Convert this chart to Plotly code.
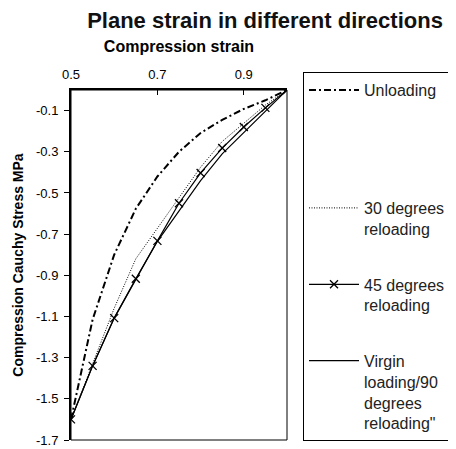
import plotly.graph_objects as go

# Data
strain = [0.5, 0.55, 0.6, 0.65, 0.7, 0.75, 0.8, 0.85, 0.9, 0.95, 1.0]
unloading = [-1.60, -1.115, -0.80, -0.577, -0.42, -0.30, -0.209, -0.145, -0.092, -0.05, 0.0]
reload30 = [-1.60, -1.33, -1.06, -0.82, -0.67, -0.52, -0.375, -0.25, -0.16, -0.073, 0.0]
reload45 = [-1.60, -1.34, -1.108, -0.917, -0.733, -0.55, -0.403, -0.282, -0.18, -0.087, 0.0]
virgin = [-1.60, -1.34, -1.108, -0.917, -0.735, -0.59, -0.44, -0.31, -0.205, -0.10, 0.0]

names = [
    "Unloading<br>&nbsp;<br>&nbsp;<br>&nbsp;<br>&nbsp;",
    "30 degrees<br>reloading<br>&nbsp;",
    "45 degrees<br>reloading<br>&nbsp;",
    "Virgin<br>loading/90<br>degrees<br>reloading\"",
]

xticks = [0.5, 0.7, 0.9]
yticks = [-0.1, -0.3, -0.5, -0.7, -0.9, -1.1, -1.3, -1.5, -1.7]

FONT = "Liberation Sans, Arial, sans-serif"

# The page body adds an 8px offset, so the figure is sized to fill the rest of the window.
W, H = 448, 441
L, T, R, B = 63, 82, 169, 9
PW, PH = W - L - R, H - T - B

fig = go.Figure()
fig.add_trace(go.Scatter(x=strain, y=unloading, mode="lines", name=names[0], legendgroup="a",
                         line=dict(color="black", width=2, dash="7px,3px,2px,3px")))
fig.add_trace(go.Scatter(x=strain, y=reload30, mode="lines", name=names[1], legendgroup="b",
                         line=dict(color="black", width=1, dash="1px,1.5px")))
fig.add_trace(go.Scatter(x=strain, y=reload45, mode="lines+markers", name=names[2], legendgroup="c",
                         line=dict(color="black", width=1.2),
                         marker=dict(symbol="x-thin", size=8, color="black",
                                     line=dict(color="black", width=1.3))))
fig.add_trace(go.Scatter(x=strain, y=virgin, mode="lines", name=names[3], legendgroup="d",
                         line=dict(color="black", width=1.2)))

fig.update_layout(
    width=W, height=H,
    margin=dict(l=L, r=R, t=T, b=B, autoexpand=False),
    paper_bgcolor="white", plot_bgcolor="white",
    font=dict(family=FONT, color="black", size=13),
    title=dict(text="Plane strain in different directions", x=257 / W, xanchor="center",
               y=1 - 12 / H, yanchor="middle",
               font=dict(size=22, weight="bold", family=FONT, color="#111")),
    legend=dict(x=(295 - L) / PW, xanchor="left", y=(T + PH - 64) / PH, yanchor="top",
                bordercolor="black", borderwidth=1, bgcolor="white",
                font=dict(size=16, family=FONT, color="#222"),
                valign="top", itemwidth=50, tracegroupgap=11, maxheight=420),
    showlegend=True,
)

fig.update_xaxes(
    side="top", range=[0.5, 1.0], tickvals=xticks, ticktext=[f"{v:.1f}" for v in xticks],
    ticks="inside", ticklen=5, tickwidth=1, tickcolor="black",
    showline=True, linewidth=2, linecolor="black", mirror=False,
    showgrid=False, zeroline=False, ticklabelstandoff=4, automargin=False,
    tickfont=dict(size=13, family=FONT),
    title=dict(text="Compression strain", standoff=10,
               font=dict(size=16, weight="bold", family=FONT)),
)
fig.update_yaxes(
    range=[-1.7, 0], tickvals=yticks, ticktext=[f"{v:.1f}" for v in yticks],
    ticks="outside", ticklen=5, tickwidth=1, tickcolor="black",
    showline=True, linewidth=2, linecolor="black", mirror=False,
    showgrid=False, zeroline=False, ticklabelstandoff=3, automargin=False,
    tickfont=dict(size=13, family=FONT),
    title=dict(text="Compression Cauchy Stress MPa", standoff=9,
               font=dict(size=14, weight="bold", family=FONT)),
)

# thin frame on the right and bottom sides of the plot area
fig.add_shape(type="rect", xref="paper", yref="paper", x0=0, x1=1, y0=0, y1=1,
              line=dict(color="black", width=1), layer="below")

fig.write_html("out.html")
